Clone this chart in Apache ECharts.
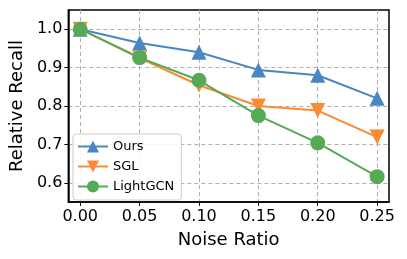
<!DOCTYPE html>
<html>
<head>
<meta charset="utf-8">
<script src="https://cdn.jsdelivr.net/npm/echarts@6/dist/echarts.min.js"></script>
<style>html,body{margin:0;padding:0;background:#fff}#c{width:407px;height:259px}</style>
</head>
<body>
<div id="c"></div>
<script>
const noiseRatios = [0.00, 0.05, 0.10, 0.15, 0.20, 0.25];
const ours = [1.000, 0.964, 0.940, 0.894, 0.880, 0.820];
const sgl = [1.000, 0.925, 0.854, 0.800, 0.788, 0.719];
const lightgcn = [1.000, 0.926, 0.867, 0.775, 0.704, 0.616];
const xTicks = [0.00, 0.05, 0.10, 0.15, 0.20, 0.25];
const yTicks = [0.6, 0.7, 0.8, 0.9, 1.0];

const font = 'DejaVu Sans';
const pairs = arr => noiseRatios.map((x, i) => [x, arr[i]]);
const mk = (name, data, color, symbol, rotate) => ({
  name, type: 'line', data: pairs(data),
  symbol, symbolSize: 15, symbolRotate: rotate,
  lineStyle: {color, width: 2},
  itemStyle: {color},
  emphasis: {disabled: true}
});

const chart = echarts.init(document.getElementById('c'));
chart.setOption({
  animation: false,
  grid: {left: 67, right: 18, top: 10, bottom: 57, show: true, borderColor: '#000', borderWidth: 1.5, backgroundColor: 'transparent'},
  xAxis: {
    type: 'value', min: -0.01, max: 0.26,
    name: 'Noise Ratio', nameLocation: 'middle', nameGap: 29,
    nameTextStyle: {fontFamily: font, fontSize: 18, color: '#000'},
    axisLine: {show: true, onZero: false, lineStyle: {color: '#000', width: 1.5}},
    axisTick: {show: true, length: 4, customValues: xTicks, lineStyle: {color: '#000', width: 1}},
    axisLabel: {customValues: xTicks, fontFamily: font, fontSize: 16, color: '#000', margin: 7,
      formatter: v => v.toFixed(2)},
    splitLine: {show: true, lineStyle: {color: '#b0b0b0', type: [4, 3], width: 1}}
  },
  yAxis: {
    type: 'value', min: 0.55, max: 1.05,
    name: 'Relative Recall', nameLocation: 'middle', nameGap: 38,
    nameTextStyle: {fontFamily: font, fontSize: 18, color: '#000'},
    axisLine: {show: true, onZero: false, lineStyle: {color: '#000', width: 1.5}},
    axisTick: {show: true, length: 4, customValues: yTicks, lineStyle: {color: '#000', width: 1}},
    axisLabel: {customValues: yTicks, fontFamily: font, fontSize: 16, color: '#000', margin: 6,
      formatter: v => v.toFixed(1)},
    splitLine: {show: true, lineStyle: {color: '#b0b0b0', type: [4, 3], width: 1}}
  },
  legend: {
    orient: 'vertical', left: 73, top: 134,
    itemWidth: 30, itemHeight: 15, itemGap: 5,
    padding: [5, 7, 6, 4],
    backgroundColor: 'rgba(255,255,255,0.85)', borderColor: '#cccccc', borderWidth: 1, borderRadius: 3,
    textStyle: {fontFamily: font, fontSize: 13, color: '#000', lineHeight: 15, height: 15},
    data: ['Ours', 'SGL', 'LightGCN']
  },
  series: [
    mk('Ours', ours, '#4a86c4', 'triangle', 0),
    mk('SGL', sgl, '#fb8a35', 'triangle', 180),
    mk('LightGCN', lightgcn, '#56aa55', 'circle', 0)
  ]
});
</script>
</body>
</html>
